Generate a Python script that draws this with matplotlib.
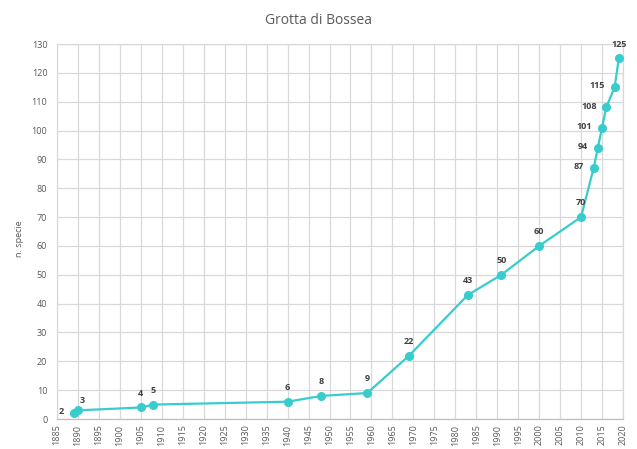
import matplotlib.pyplot as plt

# anno, numero di specie
anni = [1889, 1890, 1905, 1908, 1940, 1948, 1959, 1969, 1983, 1991, 2000, 2010,
        2013, 2014, 2015, 2016, 2018, 2019]
specie = [2, 3, 4, 5, 6, 8, 9, 22, 43, 50, 60, 70, 87, 94, 101, 108, 115, 125]
# posizione etichetta: 'a' sopra, 's' sinistra, 'ad' sopra-destra
pos = ['s', 'ad', 'a', 'a', 'a', 'a', 'a', 'a', 'a', 'a', 'a', 'a',
       's', 's', 's', 's', 's', 'a']

plt.rcParams['font.family'] = ['Open Sans', 'DejaVu Sans']
grigio = '#595959'
turchese = '#38CCCC'

fig = plt.figure(figsize=(6.37, 4.49), dpi=100)
ax = fig.add_axes([0.0895, 0.0668, 0.8885, 0.8352])

ax.plot(anni, specie, color=turchese, linewidth=1.6, marker='o', markersize=5.5,
        zorder=3)

for a, s, p in zip(anni, specie, pos):
    if p == 'a':
        off, ha, va = (0, 7), 'center', 'bottom'
    elif p == 'ad':
        off, ha, va = (1, 4), 'left', 'bottom'
    else:
        off, ha, va = (-7, 1), 'right', 'center'
    ax.annotate(str(s), xy=(a, s), xytext=off, textcoords='offset points',
                ha=ha, va=va, fontsize=6.5, fontweight='bold', color='#404040')

ax.set_xlim(1885, 2020)
ax.set_ylim(0, 130)
ax.set_xticks(range(1885, 2021, 5))
ax.set_yticks(range(0, 131, 10))
ax.tick_params(axis='x', labelrotation=90, labelsize=6.5, colors=grigio, length=0, pad=4)
ax.tick_params(axis='y', labelsize=6.5, colors=grigio, length=0, pad=7)
ax.grid(True, color='#D9D9D9', linewidth=0.9)
ax.set_axisbelow(True)
for sp in ax.spines.values():
    sp.set_color('#D9D9D9')
    sp.set_linewidth(0.9)
ax.spines['bottom'].set_color('#BFBFBF')

ax.set_ylabel('n. specie', fontsize=6.5, color=grigio, labelpad=4)
ax.yaxis.set_label_coords(-0.058, 0.48)
fig.text(0.5, 0.955, 'Grotta di Bossea', ha='center', va='center', fontsize=10,
         color=grigio)

fig.savefig('out.png', dpi=100)
